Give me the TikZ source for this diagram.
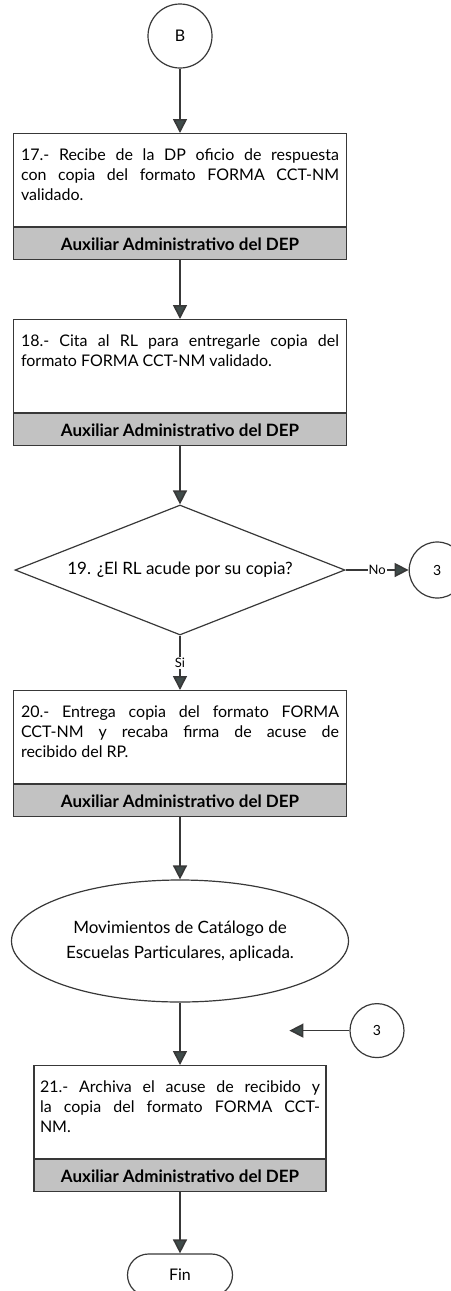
\documentclass[tikz,border=0pt]{standalone}
\usepackage{fontspec}
\setmainfont{Lato}
\usepackage{xcolor}
\usetikzlibrary{shapes,arrows.meta,positioning}

\definecolor{linegray}{HTML}{383838}
\definecolor{tipgray}{HTML}{3F4B4A}
\definecolor{bandgray}{HTML}{C2C2C2}

% text inside a task box: top aligned, justified
\newcommand{\tasktext}[2]{\parbox[c][93pt][t]{#1}{\vspace*{15pt}\fontsize{16}{20}\selectfont #2}}

\begin{document}
\begin{tikzpicture}[
    x=1pt, y=1pt,
    node distance=62pt,
    conn/.style={circle, draw=linegray, line width=1.2pt, minimum size=64pt, inner sep=0pt, font=\fontsize{16}{18}\selectfont},
    task/.style={rectangle, draw=linegray, line width=1.2pt, minimum width=333pt, minimum height=93pt, inner sep=0pt, anchor=north},
    band/.style={rectangle, draw=linegray, line width=1.2pt, fill=bandgray, minimum width=333pt, minimum height=32pt, inner sep=0pt, font=\fontsize{17}{18}\selectfont\bfseries},
    decision/.style={diamond, aspect=2.54, draw=linegray, line width=1.2pt, minimum width=330pt, minimum height=130pt, inner sep=0pt, font=\fontsize{17}{19}\selectfont},
    result/.style={ellipse, draw=linegray, line width=1.2pt, minimum width=337pt, minimum height=122pt, inner sep=0pt, align=center, font=\fontsize{17}{25}\selectfont},
    terminal/.style={rectangle, rounded corners=21pt, draw=linegray, line width=1.2pt, minimum width=105pt, minimum height=42pt, font=\fontsize{16}{18}\selectfont},
    arrow/.style={-{Triangle[length=14pt,width=14pt,fill=tipgray]}, draw=linegray, line width=1.6pt},
    lbl/.style={fill=white, inner sep=1pt, font=\fontsize{13}{15}\selectfont}
]
\useasboundingbox (0,0) rectangle (450,-1291);

% Start
\node[conn] (B) at (180,-36) {B};

% Steps 17 and 18
\node[task] (t17) at (180,-133) {\tasktext{318pt}{17.- Recibe de la DP oficio de respuesta\linebreak con copia del formato FORMA CCT-NM\linebreak validado.}};
\node[band, below=0pt of t17] (b17) {Auxiliar Administrativo del DEP};
\node[task] (t18) at (180,-319) {\tasktext{318pt}{18.- Cita al RL para entregarle copia del\linebreak formato FORMA CCT-NM validado.}};
\node[band, below=0pt of t18] (b18) {Auxiliar Administrativo del DEP};

% Decision
\node[decision] (d19) at (180,-570) {19. ¿El RL acude por su copia?};
\node[conn, minimum size=56pt, font=\fontsize{14}{16}\selectfont, right=63pt of d19] (c3a) {3};

% Step 20 and result
\node[task] (t20) at (180,-690) {\tasktext{318pt}{20.- Entrega copia del formato FORMA\linebreak CCT-NM y recaba firma de acuse de\linebreak recibido del RP.}};
\node[band, below=0pt of t20] (b20) {Auxiliar Administrativo del DEP};
\node[result] (res) at (180,-941) {Movimientos de Catálogo de\\Escuelas Particulares, aplicada.};

% Step 21 and end
\node[task, minimum width=292pt] (t21) at (180,-1065) {\tasktext{280pt}{21.- Archiva el acuse de recibido y\linebreak la copia del formato FORMA CCT-\linebreak NM.}};
\node[band, minimum width=292pt, below=0pt of t21] (b21) {Auxiliar Administrativo del DEP};
\node[terminal, below=61pt of b21] (fin) {Fin};

\node[conn, minimum size=54pt, font=\fontsize{14}{16}\selectfont] (c3b) at ([xshift=197pt,yshift=-28pt]res.south) {3};
\coordinate[left=60pt of c3b] (c3end);

% Connections
\draw[arrow] (B) -- (t17);
\draw[arrow] (b17) -- (t18);
\draw[arrow] (b18) -- (d19);
\draw[arrow] (d19) -- node[lbl] {No} (c3a);
\draw[arrow] (d19) -- node[lbl] {Si} (t20);
\draw[arrow] (b20) -- (res);
\draw[arrow] (res) -- (t21);
\draw[arrow] (c3b) -- (c3end);
\draw[arrow] (b21) -- (fin);

\end{tikzpicture}
\end{document}
